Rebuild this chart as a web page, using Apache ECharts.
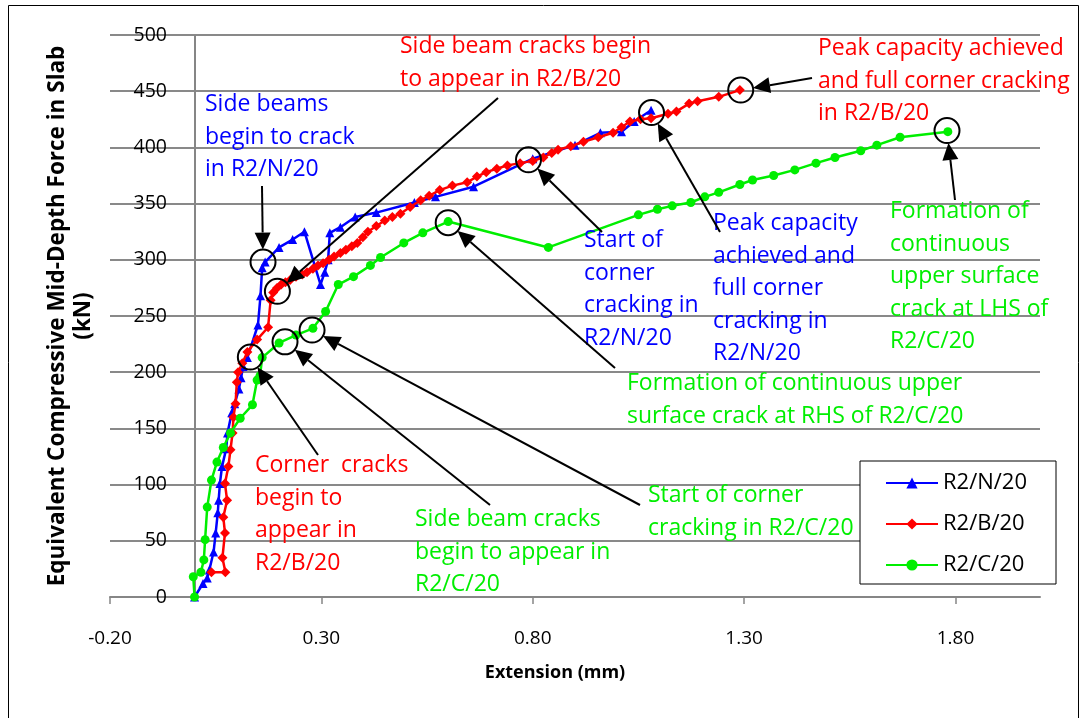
<!DOCTYPE html>
<html>
<head>
<meta charset="utf-8">
<script src="https://cdn.jsdelivr.net/npm/echarts@6/dist/echarts.min.js"></script>
<style>
html,body{margin:0;padding:0;background:#fff;}
#chart{width:1082px;height:718px;}
</style>
</head>
<body>
<div id="chart"></div>
<script>
// ---------- data ----------
const seriesNames = ['R2/N/20', 'R2/B/20', 'R2/C/20'];
const xTickValues = [-0.2, 0.3, 0.8, 1.3, 1.8];

const nExt   = [0.00,0.02,0.03,0.035,0.045,0.05,0.055,0.057,0.06,0.065,0.075,0.078,0.088,0.095,0.105,0.11,0.115,0.125,0.15,0.156,0.16,0.167,0.20,0.232,0.26,0.298,0.308,0.316,0.32,0.345,0.38,0.43,0.52,0.57,0.66,0.80,0.90,0.96,1.01,1.04,1.08];
const nForce = [0,12,17,24,40,57,75,86,101,116,132,146,164,172,185,195,205,213,242,268,293,298,311,318,325,278,289,300,324,329,338,342,351,356,365,390,402,413,414,423,433];

const bExt   = [0.04,0.073,0.066,0.072,0.068,0.077,0.072,0.08,0.085,0.09,0.092,0.097,0.10,0.103,0.113,0.125,0.148,0.174,0.18,0.186,0.195,0.205,0.215,0.226,0.24,0.255,0.266,0.28,0.292,0.304,0.318,0.33,0.345,0.358,0.372,0.385,0.398,0.41,0.43,0.45,0.468,0.487,0.51,0.535,0.555,0.58,0.61,0.645,0.668,0.69,0.715,0.74,0.77,0.80,0.825,0.845,0.86,0.89,0.92,0.955,0.99,1.01,1.03,1.055,1.08,1.12,1.14,1.17,1.19,1.24,1.29];
const bForce = [22,22,35,57,71,86,101,116,131,146,160,172,191,200,208,218,229,240,264,271,275,278,280,282,285,287,289,292,295,297,300,303,306,309,312,315,320,325,330,335,338,341,347,353,357,362,366,369,374,378,381,384,386,388,391,395,398,401,405,409,413,418,423,425,426,430,432,439,441,445,451];

const cExt   = [0.00,-0.003,0.015,0.022,0.025,0.03,0.04,0.053,0.068,0.085,0.108,0.137,0.148,0.155,0.16,0.20,0.24,0.28,0.31,0.34,0.376,0.416,0.44,0.495,0.54,0.60,0.837,1.05,1.095,1.13,1.174,1.207,1.24,1.29,1.32,1.37,1.42,1.47,1.515,1.576,1.614,1.669,1.782];
const cForce = [0,18,22,33,51,80,104,120,133,146,159,171,193,197,213,226,233,239,254,278,285,295,302,315,324,334,311,340,345,348,351,356,360,367,371,375,380,386,391,397,402,409,414];

// ---------- annotations (text layout in px, circled point in data units) ----------
const BLUE = '#0000ff', RED = '#ff0000', GREEN = '#00ee00';
const annotations = [
  {lines:['Side beams','begin to crack','in R2/N/20'], color:BLUE, x:205, y:106, pt:[0.162,298], from:[262,186]},
  {lines:['Side beam cracks begin','to appear in R2/B/20'], color:RED, x:400, y:48, pt:[0.196,272], from:[498,98]},
  {lines:['Peak capacity achieved','and full corner cracking','in R2/B/20'], color:RED, x:818, y:50, pt:[1.292,451], from:[812,78]},
  {lines:['Start of','corner','cracking in','R2/N/20'], color:BLUE, x:584, y:242, pt:[0.79,389], from:[602,232]},
  {lines:['Peak capacity','achieved and','full corner','cracking in','R2/N/20'], color:BLUE, x:713, y:225, pt:[1.081,431], from:[720,232]},
  {lines:['Formation of','continuous','upper surface','crack at LHS of','R2/C/20'], color:GREEN, x:890, y:213, pt:[1.78,415], from:[955,200]},
  {lines:['Formation of continuous upper','surface crack at RHS of R2/C/20'], color:GREEN, x:627, y:385, pt:[0.60,333], from:[615,368]},
  {lines:['Start of corner','cracking in R2/C/20'], color:GREEN, x:648, y:497, pt:[0.278,237.5], from:[640,505]},
  {lines:['Side beam cracks','begin to appear in','R2/C/20'], color:GREEN, x:415, y:521, pt:[0.214,227], from:[490,505]},
  {lines:['Corner  cracks','begin to','appear in','R2/B/20'], color:RED, x:255, y:467, pt:[0.132,213.5], from:[318,455]}
];

function zip(a, b){ return a.map((v, i) => [v, b[i]]); }

const FONT = '"Open Sans"';
const chart = echarts.init(document.getElementById('chart'), null, {renderer:'canvas'});

const option = {
  backgroundColor:'#fff',
  animation:false,
  textStyle:{fontFamily:FONT},
  grid:{left:110, right:42, top:35, bottom:121, containLabel:false, outerBoundsMode:'none'},
  legend:{
    orient:'vertical', left:860, top:461,
    padding:[11,29,8,25], itemGap:19, itemWidth:52, itemHeight:14,
    backgroundColor:'#fff', borderColor:'#000', borderWidth:1,
    textStyle:{fontFamily:FONT, fontSize:22, color:'#000'},
    data:seriesNames
  },
  xAxis:{
    type:'value', min:-0.2, max:2.0,
    name:'Extension (mm)', nameLocation:'middle', nameGap:67,
    nameTextStyle:{fontFamily:FONT, fontSize:18, fontWeight:'bold', color:'#000', padding:[0,40,0,0]},
    axisLine:{onZero:false, lineStyle:{color:'#868686', width:2}},
    axisTick:{show:true, length:7, lineStyle:{color:'#868686', width:1.5}, customValues:xTickValues},
    axisLabel:{fontFamily:FONT, fontSize:19, color:'#000', margin:32,
      customValues:xTickValues, formatter:v => v.toFixed(2)},
    splitLine:{show:false}
  },
  yAxis:{
    type:'value', min:0, max:500, interval:50,
    name:'Equivalent Compressive Mid-Depth Force in Slab\n(kN)', nameLocation:'middle', nameGap:13, nameRotate:90,
    nameTextStyle:{fontFamily:FONT, fontSize:22.5, fontWeight:'bold', color:'#000', lineHeight:26},
    axisLine:{show:false, onZero:false},
    axisTick:{show:false},
    axisLabel:{fontFamily:FONT, fontSize:19.5, color:'#000', margin:-57},
    splitLine:{show:true, lineStyle:{color:'#898989', width:2}}
  },
  series:[
    {name:seriesNames[0], type:'line', data:zip(nExt,nForce), symbol:'triangle', symbolSize:9,
     lineStyle:{color:BLUE, width:2.5}, itemStyle:{color:BLUE}, z:2,
     markLine:{silent:true, symbol:'none', label:{show:false}, z:1,
       lineStyle:{color:'#868686', width:2, type:'solid'}, data:[{xAxis:0}]}},
    {name:seriesNames[1], type:'line', data:zip(bExt,bForce), symbol:'diamond', symbolSize:10,
     lineStyle:{color:RED, width:2.5}, itemStyle:{color:RED}, z:3},
    {name:seriesNames[2], type:'line', data:zip(cExt,cForce), symbol:'circle', symbolSize:9,
     lineStyle:{color:GREEN, width:2.5}, itemStyle:{color:GREEN}, z:4}
  ]
};
chart.setOption(option);

// ---------- graphic annotations ----------
const R = 12.5, LINE_H = 32.5;
const g = [];
g.push({type:'rect', shape:{x:8.5, y:5.5, width:1070, height:720}, style:{fill:null, stroke:'#000', lineWidth:1}, z:0, silent:true});
annotations.forEach(a => {
  a.lines.forEach((t, i) => {
    g.push({type:'text', left:a.x, top:a.y + i*LINE_H - 13, z:10,
      style:{text:t, fill:a.color, font:'23px ' + FONT}});
  });
  const c = chart.convertToPixel({gridIndex:0}, a.pt);
  g.push({type:'circle', shape:{cx:c[0], cy:c[1], r:R}, style:{fill:null, stroke:'#000', lineWidth:2}, z:20});
  const dx = c[0] - a.from[0], dy = c[1] - a.from[1];
  const len = Math.sqrt(dx*dx + dy*dy);
  const ux = dx/len, uy = dy/len;
  const tip = [c[0] - ux*R, c[1] - uy*R];
  const hl = 17, hw = 8;
  const base = [tip[0] - ux*hl, tip[1] - uy*hl];
  g.push({type:'line', shape:{x1:a.from[0], y1:a.from[1], x2:base[0], y2:base[1]}, style:{stroke:'#000', lineWidth:2}, z:20});
  g.push({type:'polygon', shape:{points:[tip, [base[0] - uy*hw, base[1] + ux*hw], [base[0] + uy*hw, base[1] - ux*hw]]},
    style:{fill:'#000'}, z:20});
});
chart.setOption({graphic:g});
</script>
</body>
</html>
